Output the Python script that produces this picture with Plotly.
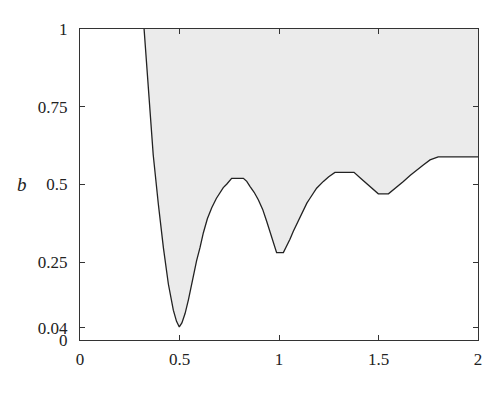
import plotly.graph_objects as go

# boundary curve b(omega)
omega = [0.322, 0.343, 0.368, 0.394, 0.419, 0.444, 0.469, 0.485, 0.499, 0.512,
         0.528, 0.545, 0.561, 0.586, 0.603, 0.62, 0.64, 0.662, 0.685, 0.704,
         0.72, 0.737, 0.762, 0.821, 0.838, 0.854, 0.875, 0.896, 0.918, 0.938,
         0.955, 0.972, 0.988, 1.022, 1.038, 1.055, 1.072, 1.089, 1.106, 1.122,
         1.14, 1.155, 1.172, 1.189, 1.223, 1.25, 1.281, 1.377, 1.41, 1.44,
         1.47, 1.499, 1.55, 1.59, 1.625, 1.66, 1.692, 1.725, 1.759, 1.80, 2.0]
b = [1.0, 0.807, 0.595, 0.435, 0.297, 0.18, 0.096, 0.06, 0.042, 0.055,
     0.085, 0.13, 0.18, 0.255, 0.297, 0.345, 0.39, 0.425, 0.455, 0.472,
     0.49, 0.501, 0.52, 0.52, 0.51, 0.494, 0.475, 0.451, 0.42, 0.382,
     0.345, 0.313, 0.281, 0.281, 0.3, 0.324, 0.35, 0.372, 0.398, 0.419,
     0.44, 0.455, 0.472, 0.488, 0.51, 0.525, 0.539, 0.539, 0.52, 0.504,
     0.485, 0.47, 0.47, 0.49, 0.51, 0.53, 0.547, 0.563, 0.579, 0.589, 0.589]

x_ticks = [0, 0.5, 1, 1.5, 2]
x_labels = ["0", "0.5", "1", "1.5", "2"]
y_ticks = [0, 0.04, 0.25, 0.5, 0.75, 1]
y_labels = ["0", "0.04", "0.25", "0.5", "0.75", "1"]

fig = go.Figure()

# top edge, used as the upper bound of the shaded area
fig.add_trace(go.Scatter(x=omega, y=[1] * len(omega), mode="lines",
                         line=dict(width=0), hoverinfo="skip", showlegend=False))

fig.add_trace(go.Scatter(x=omega, y=b, mode="lines", fill="tonexty",
                         fillcolor="#ebebeb",
                         line=dict(color="#222222", width=1.3),
                         showlegend=False))

font = dict(family="Liberation Serif, DejaVu Serif, serif", size=17, color="#222222")

axis_common = dict(showgrid=False, zeroline=False, showline=True, linecolor="#333333",
                   linewidth=1.2, mirror="ticks", ticks="inside", ticklen=5,
                   tickcolor="#333333", tickfont=font)

fig.update_xaxes(range=[0, 2], tickvals=x_ticks, ticktext=x_labels,
                 ticklabelstandoff=3, **axis_common)
fig.update_yaxes(range=[0, 1], tickvals=y_ticks, ticktext=y_labels,
                 ticklabelstandoff=8, **axis_common)

# page body has an 8px margin, so the figure is a bit smaller than the window
fig.update_layout(
    width=492, height=407,
    margin=dict(l=72, r=22, t=18, b=75),
    plot_bgcolor="white", paper_bgcolor="white",
    font=font,
    annotations=[
        dict(text="<i>b</i>", x=-0.146, y=0.5, xref="paper", yref="y",
             showarrow=False, font=dict(family=font["family"], size=19),
             xanchor="center", yanchor="middle"),
        dict(text="<i>ω</i> (Hz)", x=1, y=-0.146, xref="x", yref="y",
             showarrow=False, font=dict(family=font["family"], size=18),
             xanchor="center", yanchor="middle"),
    ],
)

fig.write_html("out.html")
